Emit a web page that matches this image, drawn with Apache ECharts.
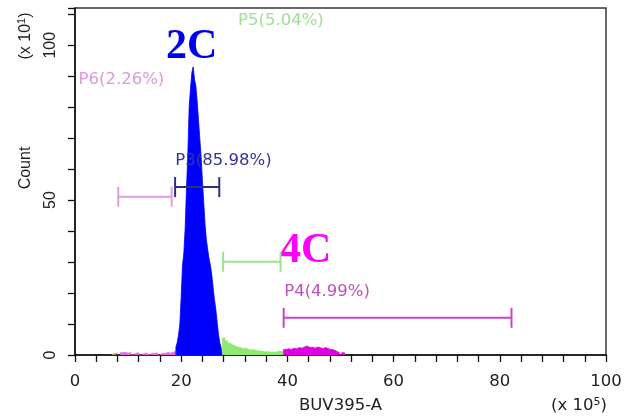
<!DOCTYPE html>
<html>
<head>
<meta charset="utf-8">
<script src="https://cdn.jsdelivr.net/npm/echarts@6/dist/echarts.min.js"></script>
<style>
  html, body { margin: 0; padding: 0; background: #ffffff; }
  #chart { width: 635px; height: 419px; }
</style>
</head>
<body>
<div id="chart"></div>
<script>
// ---- Data ----
// Histogram bins: [bin start (x10^5), count (x10^1)]
const orangeBins = [[7.0, 0.5], [7.5, 0.6]];
const pinkBins = [
  [8.5, 0.7], [9.0, 0.9], [9.5, 0.6], [10.0, 0.8], [10.5, 0], [11.0, 0.6], [11.5, 0.7],
  [12.0, 0], [12.5, 0.5], [13.0, 0.6], [13.5, 0], [14.0, 0.6], [14.5, 0.5], [15.0, 0.7],
  [15.5, 0], [16.0, 0.6], [16.5, 0.5], [17.0, 0.8], [17.5, 0.6], [18.0, 0.9], [18.5, 1.2]
];
const blueBins = [
  [19.00, 2.5], [19.25, 4], [19.50, 6.5], [19.75, 10], [20.00, 19], [20.25, 29],
  [20.50, 33], [20.75, 41], [21.00, 54], [21.25, 65], [21.50, 80], [21.75, 86],
  [22.00, 91], [22.25, 93], [22.50, 89], [22.75, 87], [23.00, 82], [23.25, 76],
  [23.50, 70], [23.75, 64], [24.00, 56], [24.25, 49], [24.50, 42], [24.75, 37],
  [25.00, 34], [25.25, 31], [25.50, 29], [25.75, 26], [26.00, 22], [26.25, 18],
  [26.50, 15], [26.75, 11], [27.00, 7], [27.25, 4], [27.50, 2.5]
];
const greenBins = [
  [27.75, 5.5], [28.25, 4.5], [28.75, 3.8], [29.25, 3.2], [29.75, 2.8], [30.25, 2.5],
  [30.75, 2.4], [31.25, 2.0], [31.75, 2.2], [32.25, 1.8], [32.75, 1.6], [33.25, 1.7],
  [33.75, 1.4], [34.25, 1.3], [34.75, 1.2], [35.25, 1.0], [35.75, 1.1], [36.25, 0.9],
  [36.75, 1.0], [37.25, 0.9], [37.75, 1.1], [38.25, 1.2], [38.75, 1.0]
];
const magentaBins = [
  [39.25, 1.8], [39.75, 2.0], [40.25, 1.8], [40.75, 2.2], [41.25, 2.0], [41.75, 2.4],
  [42.25, 2.2], [42.75, 2.6], [43.25, 2.9], [43.75, 2.4], [44.25, 2.5], [44.75, 2.2],
  [45.25, 2.6], [45.75, 2.3], [46.25, 2.1], [46.75, 2.4], [47.25, 2.0], [47.75, 1.8],
  [48.25, 1.7], [48.75, 1.2], [49.25, 0.8], [49.75, 0], [50.25, 0.7]
];

// Gates
const gateNames = ['P6(2.26%)', 'P3(85.98%)', 'P5(5.04%)', 'P4(4.99%)'];
const gateFrom  = [8.15, 18.85, 27.9, 39.3];
const gateTo    = [18.2, 27.17, 38.7, 82.2];
const gateLevel = [51.1, 54.2, 30.1, 12.0];
const labelAtX  = [0.66, 18.9, 30.7, 39.4];
const labelAtY  = [88.9, 62.7, 108, 20.4];

// Axis tick labels
const xTickLabels = [0, 20, 40, 60, 80, 100];
const yTickLabels = [0, 50, 100];

// ---- Styles ----
const gateColors  = ['#e39be3', '#2f2f85', '#9be38a', '#c845c8'];
const labelColors = ['#dc98dc', '#343496', '#9fe08e', '#bf4fbf'];
const hFont = 'DejaVu Sans';
const vFont = 'Liberation Sans';

// Stepped, filled histogram outline built from the bins
function binSeries(bins, width, color) {
  const last = bins[bins.length - 1];
  const pts = [[bins[0][0], 0]].concat(bins, [[last[0] + width, 0]]);
  return {
    type: 'line',
    step: 'end',
    data: pts,
    symbol: 'none',
    silent: true,
    lineStyle: { color: color, width: 0.8 },
    areaStyle: { color: color, opacity: 1, origin: 'start' },
    z: 2
  };
}

const gateData = gateNames.map((n, i) => [gateFrom[i], gateTo[i], gateLevel[i], labelAtX[i], labelAtY[i], i]);

const option = {
  animation: false,
  backgroundColor: '#ffffff',
  grid: { left: 75, right: 29, top: 8, bottom: 64, show: true, borderColor: '#3a3a3a', borderWidth: 1.5, backgroundColor: 'transparent' },
  xAxis: {
    type: 'value', min: 0, max: 100, interval: 4,
    name: 'BUV395-A', nameLocation: 'middle', nameGap: 42,
    nameTextStyle: { fontFamily: hFont, fontSize: 16.5, color: '#222' },
    axisLine: { show: true, onZero: false, lineStyle: { color: '#111', width: 1.5 } },
    axisTick: { show: true, inside: false, length: 7, lineStyle: { color: '#111', width: 1.3 } },
    axisLabel: {
      margin: 18, fontFamily: hFont, fontSize: 16.5, color: '#222',
      formatter: v => (xTickLabels.indexOf(v) >= 0 ? String(v) : '')
    },
    splitLine: { show: false }
  },
  yAxis: {
    type: 'value', min: 0, max: 112, interval: 10,
    axisLine: { show: true, onZero: false, lineStyle: { color: '#111', width: 1.5 } },
    axisTick: { show: true, inside: false, length: 7, lineStyle: { color: '#111', width: 1.3 } },
    axisLabel: { show: false },
    splitLine: { show: false }
  },
  series: [
    binSeries(orangeBins, 0.5, '#e8a050'),
    binSeries(pinkBins, 0.5, '#e070e0'),
    binSeries(blueBins, 0.25, '#0000ff'),
    binSeries(greenBins, 0.5, '#90e870'),
    binSeries(magentaBins, 0.5, '#e000e0'),
    {
      type: 'custom',
      data: gateData,
      silent: true,
      z: 5,
      renderItem: function (params, api) {
        const i = api.value(5);
        const a = api.coord([api.value(0), api.value(2)]);
        const b = api.coord([api.value(1), api.value(2)]);
        const t = api.coord([api.value(3), api.value(4)]);
        const col = gateColors[i];
        const ls = { stroke: col, lineWidth: 2 };
        return {
          type: 'group',
          children: [
            { type: 'line', shape: { x1: a[0], y1: a[1], x2: b[0], y2: b[1] }, style: ls },
            { type: 'line', shape: { x1: a[0], y1: a[1] - 10, x2: a[0], y2: a[1] + 10 }, style: ls },
            { type: 'line', shape: { x1: b[0], y1: b[1] - 10, x2: b[0], y2: b[1] + 10 }, style: ls },
            { type: 'text', x: t[0], y: t[1],
              style: { text: gateNames[i], fill: labelColors[i], font: '16.5px "' + hFont + '"', textAlign: 'left', textVerticalAlign: 'middle' } }
          ]
        };
      }
    }
  ],
  graphic: [
    { type: 'text', x: 166, y: 47, style: { text: '2C', fill: '#0000ee', font: 'bold 42px "Liberation Serif"', textAlign: 'left', textVerticalAlign: 'middle' } },
    { type: 'text', x: 280, y: 251, style: { text: '4C', fill: '#ff00ff', font: 'bold 42px "Liberation Serif"', textAlign: 'left', textVerticalAlign: 'middle' } },
    { type: 'text', x: 26, y: 168, rotation: Math.PI / 2,
      style: { text: 'Count', fill: '#222', font: '16px "' + vFont + '"', textAlign: 'center', textVerticalAlign: 'middle' } },
    { type: 'text', x: 26, y: 36, rotation: Math.PI / 2,
      style: { text: '(x 10{s|1})', fill: '#222', font: '16px "' + vFont + '"', textAlign: 'center', textVerticalAlign: 'middle',
               rich: { s: { fontSize: 11, fontFamily: vFont, fill: '#222', verticalAlign: 'top', padding: [0, 0, 8, 0] } } } },
    { type: 'text', x: 607, y: 406,
      style: { text: '(x 10{s|5})', fill: '#222', font: '16.5px "' + hFont + '"', textAlign: 'right', textVerticalAlign: 'middle',
               rich: { s: { fontSize: 11, fontFamily: hFont, fill: '#222', padding: [0, 0, 8, 0] } } } }
  ]
};

const chart = echarts.init(document.getElementById('chart'), null, { renderer: 'canvas' });
chart.setOption(option);

// Rotated y tick labels placed through the axis scale
const yLabelGraphics = yTickLabels.map(v => {
  const p = chart.convertToPixel({ gridIndex: 0 }, [0, v]);
  return {
    type: 'text', x: p[0] - 24, y: p[1], rotation: Math.PI / 2,
    style: { text: String(v), fill: '#222', font: '16px "' + vFont + '"', textAlign: 'center', textVerticalAlign: 'middle' }
  };
});
chart.setOption({ graphic: option.graphic.concat(yLabelGraphics) });
</script>
</body>
</html>
